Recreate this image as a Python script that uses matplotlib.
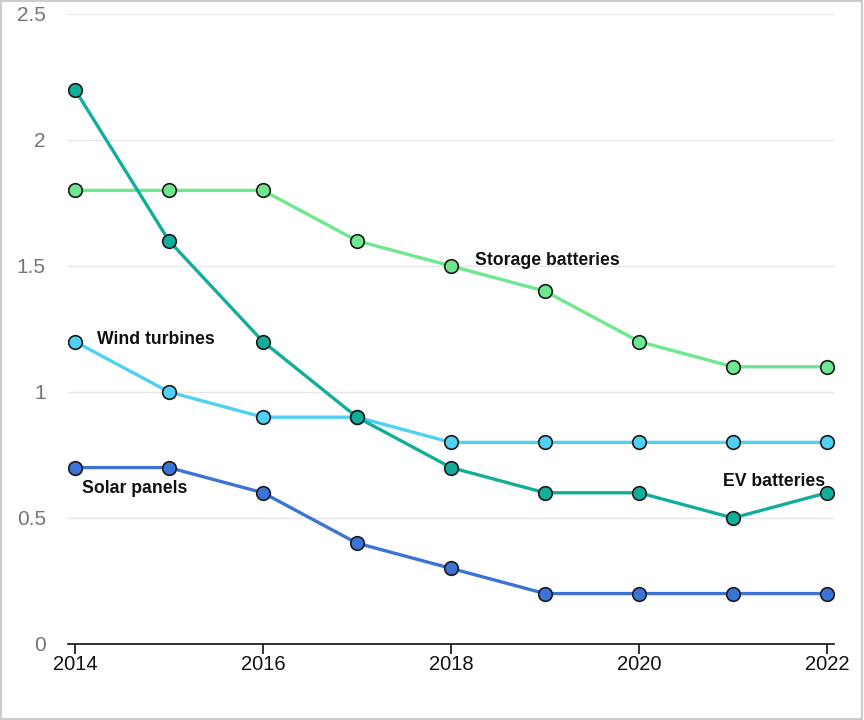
import matplotlib.pyplot as plt
from matplotlib.patches import Rectangle

plt.rcParams['font.family'] = ['Liberation Sans', 'DejaVu Sans']

years = [2014, 2015, 2016, 2017, 2018, 2019, 2020, 2021, 2022]
storage = [1.8, 1.8, 1.8, 1.6, 1.5, 1.4, 1.2, 1.1, 1.1]
wind = [1.2, 1.0, 0.9, 0.9, 0.8, 0.8, 0.8, 0.8, 0.8]
ev = [2.2, 1.6, 1.2, 0.9, 0.7, 0.6, 0.6, 0.5, 0.6]
solar = [0.7, 0.7, 0.6, 0.4, 0.3, 0.2, 0.2, 0.2, 0.2]

fig = plt.figure(figsize=(8.64, 7.2), dpi=100)
ax = fig.add_axes([0.0787, 0.1056, 0.8866, 0.875])

series = [
    (storage, "#6ee88f"),
    (wind, "#4fd0f5"),
    (ev, "#12ae9b"),
    (solar, "#3b74d6"),
]
for vals, col in series:
    ax.plot(years, vals, color=col, lw=2.4, marker="o", ms=9.8,
            mfc=col, mec="#1a1a1a", mew=1.2, zorder=3)

lab = dict(fontsize=12.7, fontweight="bold", color="#111111")
ax.text(2018.25, 1.52, "Storage batteries", ha="left", va="center", **lab)
ax.text(2014.23, 1.21, "Wind turbines", ha="left", va="center", **lab)
ax.text(2014.07, 0.615, "Solar panels", ha="left", va="center", **lab)
ax.text(2021.98, 0.645, "EV batteries", ha="right", va="center", **lab)

ax.set_xlim(2013.926, 2022.074)
ax.set_ylim(0, 2.5)
ax.set_xticks([2014, 2016, 2018, 2020, 2022])
ax.set_yticks([0, 0.5, 1, 1.5, 2, 2.5])
ax.set_yticklabels(["0", "0.5", "1", "1.5", "2", "2.5"])
ax.grid(axis="y", color="#e6e6e6", lw=1)
ax.set_axisbelow(True)
for s in ["left", "right", "top"]:
    ax.spines[s].set_visible(False)
ax.spines["bottom"].set_color("#111111")
ax.spines["bottom"].set_linewidth(1.2)
ax.tick_params(axis="y", length=0, labelsize=15, labelcolor="#757575", pad=16)
ax.tick_params(axis="x", length=7, width=1.2, color="#111111", labelsize=14.5,
               labelcolor="#111111", pad=1)

fig.patches.append(Rectangle((0.001, 0.001), 0.997, 0.997, transform=fig.transFigure,
                             fill=False, edgecolor="#cccccc", lw=1.5))

fig.savefig("out.png", dpi=100)
